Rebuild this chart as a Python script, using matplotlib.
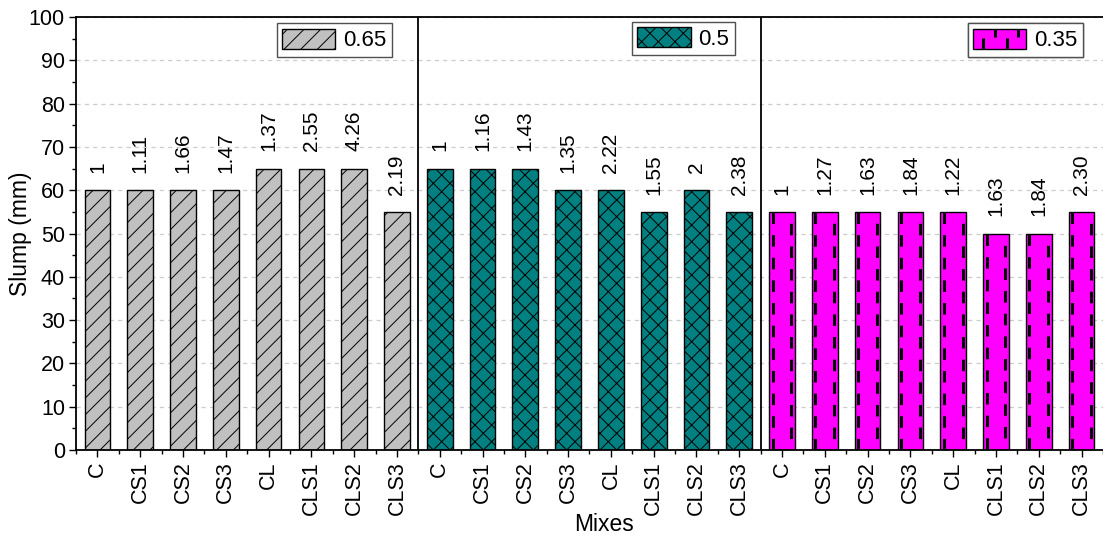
import matplotlib.pyplot as plt
import matplotlib as mpl
from matplotlib.patches import Rectangle, Patch
from matplotlib.lines import Line2D
from matplotlib.legend_handler import HandlerPatch
from matplotlib.ticker import MultipleLocator
import numpy as np

#-------------------------------------------------------------------------------
#Data
#-------------------------------------------------------------------------------

mixes = ['C', 'CS1', 'CS2', 'CS3', 'CL', 'CLS1', 'CLS2', 'CLS3']
ratios = ['0.65', '0.5', '0.35']

slump_065 = [60, 60, 60, 60, 65, 65, 65, 55]
slump_050 = [65, 65, 65, 60, 60, 55, 60, 55]
slump_035 = [55, 55, 55, 55, 55, 50, 50, 55]

labels_065 = ['1', '1.11', '1.66', '1.47', '1.37', '2.55', '4.26', '2.19']
labels_050 = ['1', '1.16', '1.43', '1.35', '2.22', '1.55', '2', '2.38']
labels_035 = ['1', '1.27', '1.63', '1.84', '1.22', '1.63', '1.84', '2.30']

#-------------------------------------------------------------------------------
#Style
#-------------------------------------------------------------------------------

mpl.rcParams['font.family'] = ['Liberation Sans', 'DejaVu Sans']
mpl.rcParams['font.size'] = 15.5
mpl.rcParams['hatch.linewidth'] = 0.7
mpl.rcParams['lines.scale_dashes'] = False

colors = ['#c0c0c0', '#008080', '#ff00ff']
hatches = ['//', 'xx', None]
width = 0.6

#dashed vertical fill used for the 0.35 series
dash_on, dash_off = 8.3, 8.0
dash_lw = 2.2


class DashedHandler(HandlerPatch):
    def create_artists(self, legend, orig_handle, xdescent, ydescent,
                       width, height, fontsize, trans):
        x0, y0 = -xdescent, -ydescent
        rect = Rectangle((x0, y0), width, height, facecolor=colors[2],
                         edgecolor='black', lw=1.0, transform=trans)
        arts = [rect]
        for i, fx in enumerate([0.19, 0.42, 0.64, 0.85]):
            if i % 2 == 0:
                ys = [y0, y0 + 0.55 * height]
            else:
                ys = [y0 + 0.6 * height, y0 + height]
            arts.append(Line2D([x0 + fx * width] * 2, ys, color='black',
                               lw=dash_lw, solid_capstyle='butt',
                               transform=trans))
        return arts


#-------------------------------------------------------------------------------
#Figure
#-------------------------------------------------------------------------------

fig = plt.figure(figsize=(11.03, 5.37), dpi=100)
ax = fig.add_axes([0.0689, 0.162, 0.9311, 0.8063])

series = [slump_065, slump_050, slump_035]
bar_labels = [labels_065, labels_050, labels_035]
n = len(mixes)
legend_x = [0.3077, 0.6417, 0.9805]
legend_y = [0.986, 0.989, 0.986]

for g, (vals, labs) in enumerate(zip(series, bar_labels)):
    x = np.arange(1, n + 1) + g * n
    bars = ax.bar(x, vals, width, color=colors[g], edgecolor='black',
                  linewidth=1.0, hatch=hatches[g], zorder=2)

    if g == 2:
        for xi, v in zip(x, vals):
            for k, dx in enumerate([-0.22, 0.22]):
                ax.plot([xi + dx, xi + dx], [v, 0], color='black', lw=dash_lw,
                        linestyle=(k * (dash_on + dash_off) / 2,
                                   (dash_on, dash_off)),
                        zorder=2.5)

    for xi, v, t in zip(x, vals, labs):
        ax.text(xi, v + 4.0, t, rotation=90, ha='center', va='bottom',
                fontsize=15)

    legend_kw = dict(loc='upper right', bbox_to_anchor=(legend_x[g], legend_y[g]),
                     borderaxespad=0, borderpad=0.25, handlelength=2.4,
                     handleheight=1.0, handletextpad=0.35, fontsize=16,
                     fancybox=False, edgecolor='#505050', framealpha=1)
    if g == 2:
        handle = Patch(facecolor=colors[2], edgecolor='black')
        leg = ax.legend([handle], [ratios[g]],
                        handler_map={Patch: DashedHandler()}, **legend_kw)
    else:
        leg = ax.legend([bars], [ratios[g]], **legend_kw)
    leg.get_frame().set_linewidth(1.0)
    ax.add_artist(leg)

#Group separators
for b in [n + 0.5, 2 * n + 0.5]:
    ax.axvline(b, color='black', lw=1.3, zorder=3)

#Axes ranges and ticks
ax.set_xlim(0.5, 24.4)
ax.set_ylim(0, 100)
ax.set_xticks(np.arange(1, 3 * n + 1), mixes * 3, rotation=90)
ax.set_xticks(np.arange(0.5, 3 * n + 1), minor=True)
ax.yaxis.set_major_locator(MultipleLocator(10))
ax.yaxis.set_minor_locator(MultipleLocator(5))
ax.tick_params(which='major', direction='out', length=5, width=1.0,
               labelsize=15.5, pad=3)
ax.tick_params(which='minor', direction='out', length=3, width=1.0)

ax.spines['right'].set_visible(False)
for s in ['left', 'top', 'bottom']:
    ax.spines[s].set_linewidth(1.3)

ax.set_axisbelow(True)
ax.yaxis.grid(True, which='major', color='#cccccc', linestyle=(0, (3, 3)),
              lw=0.9)

ax.set_ylabel('Slump (mm)', fontsize=16.5, va='center')
ax.yaxis.set_label_coords(-0.0536, 0.5)
ax.set_xlabel('Mixes', fontsize=16.5, va='center')
ax.xaxis.set_label_coords(0.514, -0.171)

fig.savefig('out.png', dpi=100)
